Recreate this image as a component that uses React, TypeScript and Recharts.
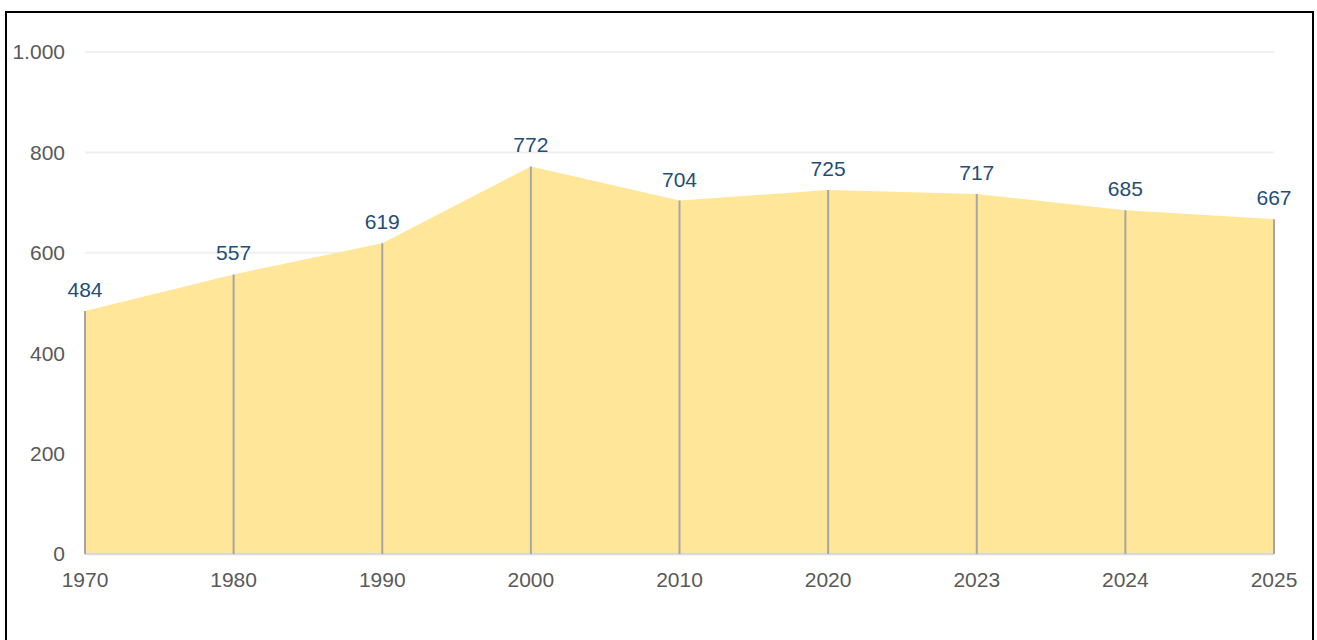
import { AreaChart, Area, XAxis, YAxis, CartesianGrid, LabelList } from "recharts";

const YEARS = ["1970", "1980", "1990", "2000", "2010", "2020", "2023", "2024", "2025"];
const VALUES = [484, 557, 619, 772, 704, 725, 717, 685, 667];
const Y_TICKS = [0, 200, 400, 600, 800, 1000];

const data = YEARS.map((year, i) => ({ year, value: VALUES[i] }));

const W = 1305;
const H = 627;
const MARGIN = { top: 39, right: 38, left: 0, bottom: 46 };
const X_AXIS_H = 40;
const PLOT_BOTTOM = H - MARGIN.bottom - X_AXIS_H;

const FONT = "'Liberation Sans', Arial, sans-serif";

// 1000 -> "1.000"
const fmt = (v: number) => String(v).replace(/\B(?=(\d{3})+(?!\d))/g, ".");

const DropLine = (props: any) => {
  const { cx, cy, index } = props;
  if (cx == null || cy == null) return null;
  return (
    <line
      key={`drop-${index}`}
      x1={cx}
      y1={cy}
      x2={cx}
      y2={PLOT_BOTTOM}
      stroke="#A6A6A6"
      strokeWidth={2}
    />
  );
};

export default function App() {
  return (
    <div
      style={{
        position: "absolute",
        left: 5,
        top: 11,
        width: W,
        height: 640,
        border: "2px solid #000",
        background: "#fff",
        fontFamily: FONT,
      }}
    >
      <AreaChart width={W} height={H} data={data} margin={MARGIN}>
        <CartesianGrid vertical={false} stroke="#F0F0F0" strokeWidth={2} />
        <XAxis
          dataKey="year"
          height={X_AXIS_H}
          tickLine={false}
          tickSize={0}
          tickMargin={18}
          axisLine={{ stroke: "#D9D9D9", strokeWidth: 2.5 }}
          tick={{ fill: "#595959", fontSize: 21, fontFamily: FONT }}
          interval={0}
        />
        <YAxis
          width={78}
          domain={[0, 1000]}
          ticks={Y_TICKS}
          tickFormatter={fmt}
          axisLine={false}
          tickLine={false}
          tickSize={0}
          tickMargin={20}
          tick={{ fill: "#595959", fontSize: 21, fontFamily: FONT }}
        />
        <Area
          type="linear"
          dataKey="value"
          fill="#FFE699"
          fillOpacity={1}
          stroke="none"
          dot={DropLine}
          activeDot={false}
          isAnimationActive={false}
        >
          <LabelList
            dataKey="value"
            position="top"
            offset={14}
            fill="#1F4E79"
            fontSize={21}
            fontFamily={FONT}
          />
        </Area>
      </AreaChart>
    </div>
  );
}
